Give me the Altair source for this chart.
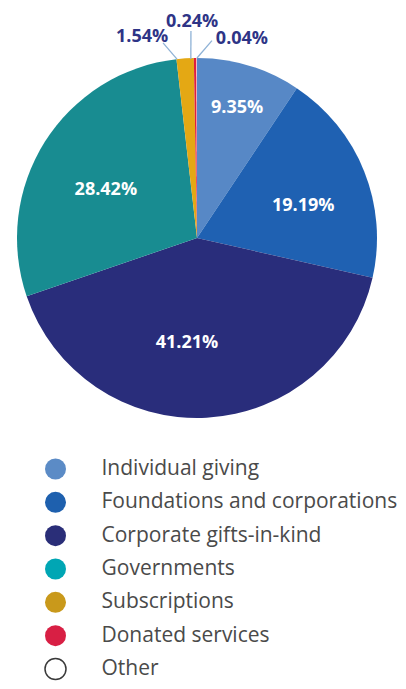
import altair as alt
import pandas as pd

categories = ["Individual giving", "Foundations and corporations", "Corporate gifts-in-kind",
              "Governments", "Subscriptions", "Donated services", "Other"]
values = [9.35, 19.19, 41.21, 28.42, 1.54, 0.24, 0.04]
labels = ["9.35%", "19.19%", "41.21%", "28.42%", "1.54%", "0.24%", "0.04%"]

pie_colors = ["#5788c6", "#1f61b2", "#292d7b", "#188c91", "#e4a814", "#dd1f3d", "#ffffff"]
legend_colors = ["#5b8bc6", "#1e60ae", "#2a2e78", "#00a6b4", "#c9991b", "#d81f44", "#ffffff"]

W, H = 378, 460
CX, CY = W / 2, H / 2
R = 180

df = pd.DataFrame({"category": categories, "value": values, "label": labels,
                   "order": list(range(len(categories)))})

pie = alt.Chart(df).mark_arc(radius=R).encode(
    theta=alt.Theta("value:Q", stack=True),
    color=alt.Color("category:N", scale=alt.Scale(domain=categories, range=pie_colors), legend=None),
    order=alt.Order("order:Q"),
)

base = (alt.Chart(df)
        .transform_window(cum="sum(value)", sort=[alt.SortField("order")], frame=[None, 0])
        .transform_joinaggregate(total="sum(value)")
        .transform_calculate(mid="(datum.cum - datum.value/2) / datum.total * 360"))

# label placement style: (radius, angle offset from slice middle in degrees)
inside_style = {"9.35%": (136, 0.3), "19.19%": (111, 5.0), "41.21%": (105, 8.5), "28.42%": (103, -4.5)}
outside_style = {"1.54%": (208, -11.5), "0.24%": (216, -0.7), "0.04%": (204, 12.8)}
# leader lines: (r_start, off_start, r_end, off_end)
leader_style = {"1.54%": (198, -6.1, 180, -2.6), "0.24%": (207, -1.1, 179, -1.4), "0.04%": (198, 4.4, 180, 0.07)}


def polar(chart, name, r, off):
    return (chart
            .transform_calculate(**{name + "_a": f"(datum.mid + ({off})) * PI / 180"})
            .transform_calculate(**{name + "_x": f"{CX} + {r} * sin(datum.{name}_a)"})
            .transform_calculate(**{name + "_y": f"{CY} - {r} * cos(datum.{name}_a)"}))


layers = [pie]
for lab, (r, off) in inside_style.items():
    c = polar(base.transform_filter(alt.datum.label == lab), "p", r, off)
    layers.append(c.mark_text(font="Open Sans", fontWeight="bold", fontSize=18, color="white",
                              align="center", baseline="middle").encode(
        x=alt.X("p_x:Q", scale=None), y=alt.Y("p_y:Q", scale=None), text="label:N"))

for lab, (r1, o1, r2, o2) in leader_style.items():
    c = base.transform_filter(alt.datum.label == lab)
    c = polar(c, "s", r1, o1)
    c = polar(c, "e", r2, o2)
    layers.append(c.mark_rule(color="#8fb2d6", strokeWidth=1.3).encode(
        x=alt.X("s_x:Q", scale=None), y=alt.Y("s_y:Q", scale=None),
        x2="e_x:Q", y2="e_y:Q"))

for lab, (r, off) in outside_style.items():
    c = polar(base.transform_filter(alt.datum.label == lab), "p", r, off)
    layers.append(c.mark_text(font="Open Sans", fontWeight="bold", fontSize=18, color="#2e3486",
                              align="center", baseline="middle").encode(
        x=alt.X("p_x:Q", scale=None), y=alt.Y("p_y:Q", scale=None), text="label:N"))

legend_y = alt.Y("category:N", sort=categories, axis=None,
                 scale=alt.Scale(type="point", range=[461, 661], padding=0))

legend_pts = alt.Chart(df).mark_circle(size=441, opacity=1, stroke="#3a3a3a").encode(
    x=alt.value(47.5),
    y=legend_y,
    fill=alt.Fill("category:N", scale=alt.Scale(domain=categories, range=legend_colors), legend=None),
    strokeWidth=alt.condition(alt.datum.category == "Other", alt.value(1.5), alt.value(0)),
)
legend_txt = alt.Chart(df).mark_text(font="Open Sans", fontSize=21, color="#4a4a4a",
                                      align="left", baseline="middle").encode(
    x=alt.value(93.5),
    y=legend_y,
    text="category:N",
)
layers += [legend_pts, legend_txt]

chart = (alt.layer(*layers)
         .resolve_scale(y="independent", x="independent", color="independent", fill="independent")
         .properties(width=W, height=H, padding=0)
         .configure_view(stroke=None))

chart.save("out.html", embed_options={"renderer": "svg", "actions": False})
